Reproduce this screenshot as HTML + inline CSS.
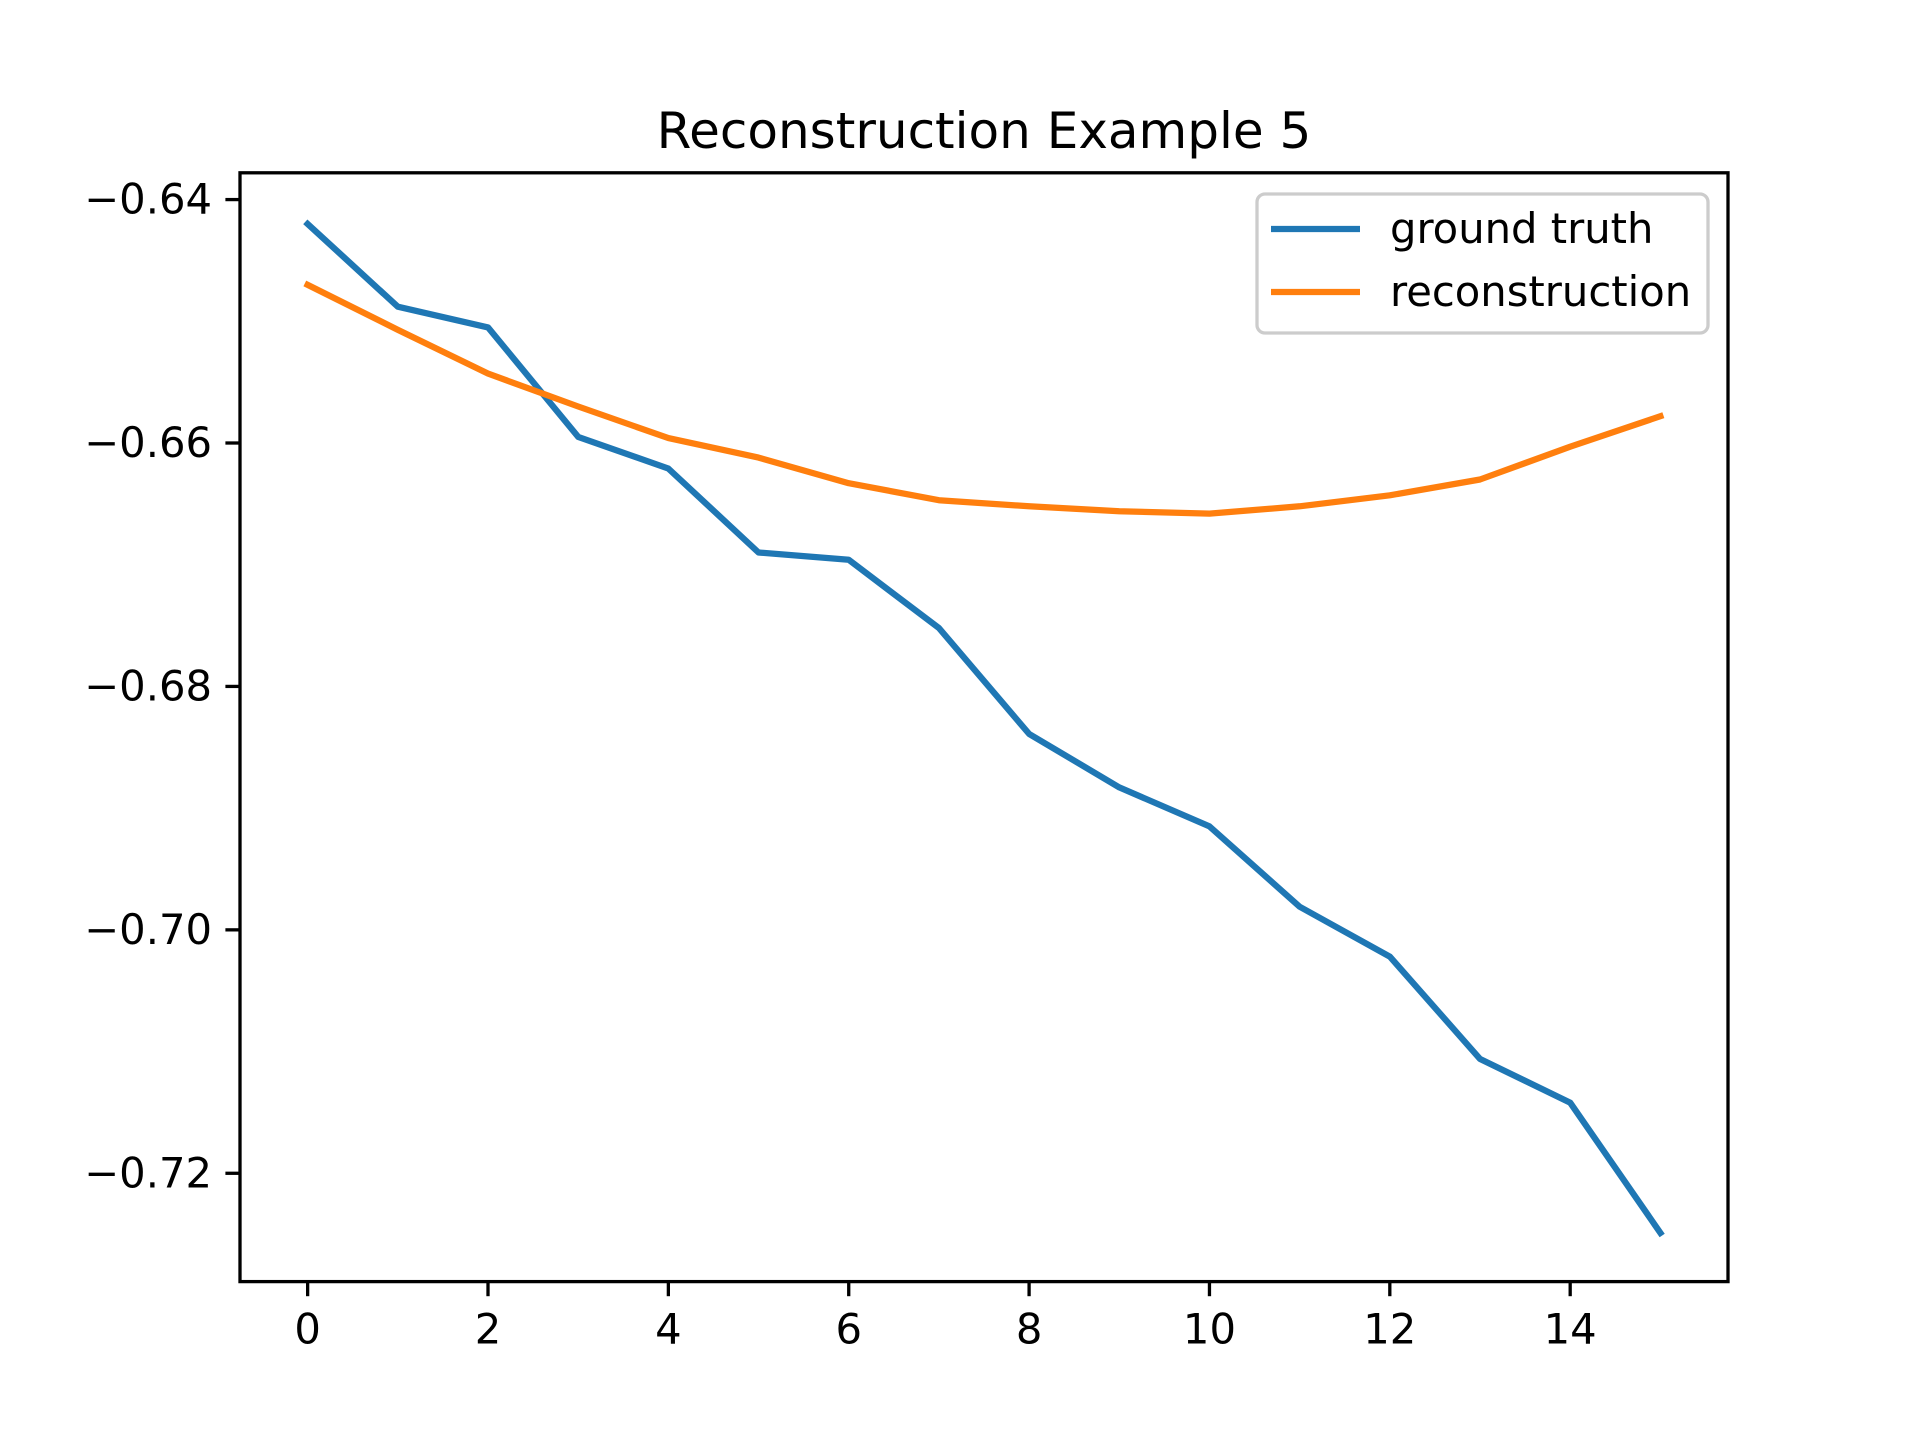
<!DOCTYPE html>
<html><head><meta charset="utf-8">
<style>
html,body{margin:0;padding:0;background:#fff;}
svg{display:block;font-family:"DejaVu Sans","Liberation Sans",sans-serif;}
</style></head>
<body>
<svg id="chart" width="1920" height="1440" viewBox="0 0 1920 1440">
<rect width="1920" height="1440" fill="#fff"/>
<text x="984" y="148" font-size="50" text-anchor="middle">Reconstruction Example 5</text>
<g id="plot"></g>
</svg>
<script>
const xValues = [0,1,2,3,4,5,6,7,8,9,10,11,12,13,14,15];
const groundTruth = [-0.6420,-0.6488,-0.6505,-0.6595,-0.6621,-0.6690,-0.6696,-0.6752,-0.6839,-0.6883,-0.6915,-0.6981,-0.7022,-0.7106,-0.7142,-0.7249];
const reconstruction = [-0.6470,-0.6507,-0.6543,-0.6570,-0.6596,-0.6612,-0.6633,-0.6647,-0.6652,-0.6656,-0.6658,-0.6652,-0.6643,-0.6630,-0.6603,-0.6578];
const xTicks = [0,2,4,6,8,10,12,14];
const yTicks = [-0.64,-0.66,-0.68,-0.70,-0.72];
const yTickLabels = ["\u22120.64","\u22120.66","\u22120.68","\u22120.70","\u22120.72"];
const seriesNames = ["ground truth","reconstruction"];

const L=240,R=1728,T=172.8,B=1281.6;
const xMin=-0.75,xMax=15.75,yMin=-0.7289,yMax=-0.6378;
const sx=v=>L+(v-xMin)/(xMax-xMin)*(R-L);
const sy=v=>B-(v-yMin)/(yMax-yMin)*(B-T);
const NS="http://www.w3.org/2000/svg";
const g=document.getElementById('plot');
function mk(tag,attrs,parent){const e=document.createElementNS(NS,tag);for(const k in attrs)e.setAttribute(k,attrs[k]);(parent||g).appendChild(e);return e;}

xTicks.forEach((t,i)=>{
  const ln=mk('line',{x1:sx(t),x2:sx(t),y1:B,y2:B+14.6,stroke:'#000','stroke-width':3.3});
  
  
  const tx=mk('text',{x:sx(t),y:B+62,'font-size':41.7,'text-anchor':'middle'});
  tx.textContent=String(t);
  
  
});
yTicks.forEach((t,i)=>{
  const ln=mk('line',{x1:L-14.6,x2:L,y1:sy(t),y2:sy(t),stroke:'#000','stroke-width':3.3});
  
  
  const tx=mk('text',{x:L-28,y:sy(t)+14,'font-size':41.7,'text-anchor':'end'});
  tx.textContent=yTickLabels[i];
  
  
});

function line(vals,color,name){
  const pts=vals.map((v,i)=>sx(xValues[i]).toFixed(1)+','+sy(v).toFixed(1)).join(' ');
  const p=mk('polyline',{points:pts,fill:'none',stroke:color,'stroke-width':6.25,'stroke-linejoin':'round','stroke-linecap':'square'});
  
  
}
line(groundTruth,'#1f77b4','ground-truth-line');
line(reconstruction,'#ff7f0e','reconstruction-line');

const fr=mk('rect',{x:L,y:T,width:R-L,height:B-T,fill:'none',stroke:'#000','stroke-width':3.3});



const lg=mk('g',{});


mk('rect',{x:1257,y:194,width:451,height:139,rx:8,fill:'#fff','fill-opacity':0.8,stroke:'#cccccc','stroke-width':3.3},lg);
const colors=['#1f77b4','#ff7f0e'];
seriesNames.forEach((n,i)=>{
  const y=229+i*63;
  const e=mk('g',{},lg);
  
  
  mk('line',{x1:1271,x2:1360,y1:y,y2:y,stroke:colors[i],'stroke-width':6.25},e);
  const t=mk('text',{x:1390,y:y+14,'font-size':41.7},e);
  t.textContent=n;
});
</script>
</body></html>
